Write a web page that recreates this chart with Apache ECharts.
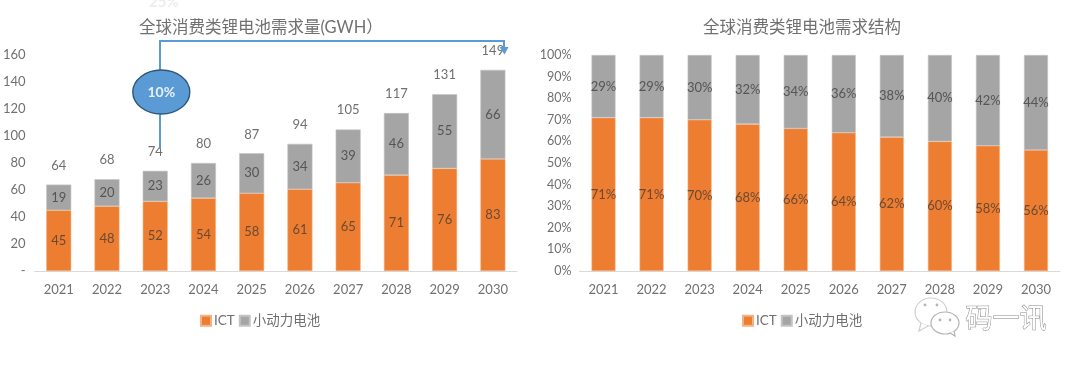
<!DOCTYPE html>
<html><head><meta charset="utf-8">
<style>html,body{margin:0;padding:0;background:#fff}#c{width:1080px;height:366px}</style>
<script src="https://cdn.jsdelivr.net/npm/echarts@6/dist/echarts.min.js"></script>
</head><body><div id="c"></div>
<script>
const years = ['2021','2022','2023','2024','2025','2026','2027','2028','2029','2030'];
const ictDemand = [45,48,51.6,54,57.6,60.6,65.4,71,76,83];
const smallPowerDemand = [19,20,22.6,26,29.6,33.6,39.4,46,55,66];
const totalDemand = [64,68,74,80,87,94,105,117,131,149];
const ictShare = [71,71,70,68,66,64,62,60,58,56];
const smallPowerShare = [29,29,30,32,34,36,38,40,42,44];

const FONT = 'Lato, "Noto Sans CJK SC", sans-serif';
const ORANGE = '#ed7d31', GRAY = '#a5a5a5', TXT = '#707070', LBL = '#555555', LBL2 = '#6a4a35', AX = '#d9d9d9', BLUE = '#5b9bd5';
const chart = echarts.init(document.getElementById('c'), null, {renderer:'canvas'});

function xAxis(i){return {type:'category',gridIndex:i,data:years,
  axisLine:{lineStyle:{color:AX,width:1}},axisTick:{show:false},
  axisLabel:{color:TXT,fontSize:13,fontFamily:FONT,margin:12}};}
function barSeries(name,data,color,i,w,fs,fmt){return {type:'bar',name,data,stack:'s'+i,xAxisIndex:i,yAxisIndex:i,
  barWidth:w,itemStyle:{color,borderColor:color==ORANGE?'#f4b183':'#c4c4c4',borderWidth:0.6},
  label:{show:true,position:'inside',color:color==ORANGE?LBL2:LBL,fontSize:fs,fontFamily:FONT,formatter:fmt}};}
const legend = (left)=>({left,top:309,itemWidth:10,itemHeight:10,itemGap:4,data:['ICT','小动力电池'],
  icon:'rect',textStyle:{color:TXT,fontSize:13.5,fontFamily:FONT,padding:[0,0,0,-2]}});

chart.setOption({
  animation:false,
  backgroundColor:'#fff',
  title:[
    {text:'全球消费类锂电池需求量(GWH）',left:134,top:14,textStyle:{color:TXT,fontSize:16.5,fontWeight:'normal',fontFamily:FONT}},
    {text:'全球消费类锂电池需求结构',left:698,top:14,textStyle:{color:TXT,fontSize:16.5,fontWeight:'normal',fontFamily:FONT}}
  ],
  legend:[legend(195),legend(737)],
  grid:[
    {left:30.5,width:486.5,top:55,height:216},
    {left:579.5,width:480.5,top:55,height:216}
  ],
  xAxis:[xAxis(0),xAxis(1)],
  yAxis:[
    {type:'value',gridIndex:0,min:0,max:160,interval:20,splitLine:{show:false},axisLine:{show:false},axisTick:{show:false},
     axisLabel:{color:TXT,fontSize:13,fontFamily:FONT,margin:9,formatter:v=>v===0?'-':v}},
    {type:'value',gridIndex:1,min:0,max:100,interval:10,splitLine:{show:false},axisLine:{show:false},axisTick:{show:false},
     axisLabel:{color:TXT,fontSize:12.5,fontFamily:FONT,margin:8,formatter:'{value}%'}}
  ],
  series:[
    barSeries('ICT',ictDemand,ORANGE,0,25,13,p=>Math.round(p.value)),
    barSeries('小动力电池',smallPowerDemand,GRAY,0,25,13,p=>Math.round(p.value)),
    {type:'line',name:'total',data:totalDemand,xAxisIndex:0,yAxisIndex:0,symbol:'circle',symbolSize:1,silent:true,
     itemStyle:{color:'transparent'},lineStyle:{color:'transparent',width:0},z:5,
     label:{show:true,position:'top',distance:12,color:TXT,fontSize:13,fontFamily:FONT}},
    barSeries('ICT',ictShare,ORANGE,1,24,13,p=>p.value+'%'),
    barSeries('小动力电池',smallPowerShare,GRAY,1,24,13,p=>p.value+'%')
  ],
  graphic:[
    {type:'text',left:149,top:-5,style:{text:'25%',fill:'#ededed',font:'bold 15px '+FONT}},
    {type:'polyline',z:10,shape:{points:[[160,149],[160,41],[504,41],[504,49]]},style:{stroke:BLUE,lineWidth:2,fill:null}},
    {type:'polygon',z:10,shape:{points:[[499.5,47],[508.5,47],[504.5,54.5]]},style:{fill:BLUE}},
    {type:'ellipse',z:11,shape:{cx:161.3,cy:92,rx:28.5,ry:22},style:{fill:BLUE,stroke:'#2e5878',lineWidth:1.4}},
    {type:'text',z:12,x:161.3,y:92,style:{text:'10%',fill:'#e8f0f8',font:'bold 14px '+FONT,align:'center',verticalAlign:'middle'}},
    {type:'ellipse',z:3,shape:{cx:931,cy:312,rx:16,ry:14},style:{fill:'#fff',stroke:'#cfcfcf',lineWidth:1.2}},
    {type:'polyline',z:3,shape:{points:[[921,323],[919,331],[928,326]]},style:{fill:'#fff',stroke:'#cfcfcf',lineWidth:1.2}},
    {type:'ellipse',z:4,shape:{cx:945,cy:323,rx:14,ry:11},style:{fill:'#fff',stroke:'#b4b4b4',lineWidth:1.2}},
    {type:'polyline',z:4,shape:{points:[[950,333],[955,336],[954,331]]},style:{fill:'#fff',stroke:'#b4b4b4',lineWidth:1.2}},
    {type:'circle',z:5,shape:{cx:925,cy:305,r:1.4},style:{fill:'#b5b5b5'}},
    {type:'circle',z:5,shape:{cx:937,cy:305,r:1.4},style:{fill:'#b5b5b5'}},
    {type:'circle',z:5,shape:{cx:940,cy:320,r:1.4},style:{fill:'#b5b5b5'}},
    {type:'circle',z:5,shape:{cx:950,cy:320,r:1.4},style:{fill:'#b5b5b5'}},
    {type:'text',z:5,left:965,top:304,style:{text:'码一讯',fill:'#fff',stroke:'#8a8a8a',lineWidth:1,font:'27px "Noto Sans CJK SC"'}}
  ]
});
</script></body></html>
